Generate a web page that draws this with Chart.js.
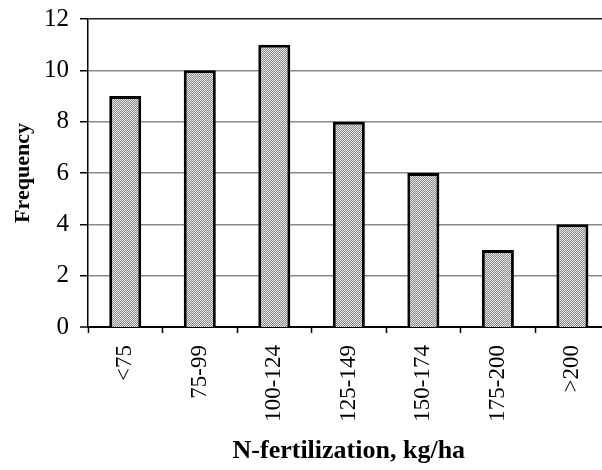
<!DOCTYPE html>
<html>
<head>
<meta charset="utf-8">
<script src="https://cdn.jsdelivr.net/npm/chart.js@4"></script>
<style>
  html, body { margin: 0; padding: 0; background: #fff; overflow: hidden; }
  #myChart { display: block; margin-top: -7px; }
</style>
</head>
<body>
<canvas id="myChart" width="612" height="477"></canvas>
<script>
// data
const categories = ["<75", "75-99", "100-124", "125-149", "150-174", "175-200", ">200"]
const frequency = [9, 10, 11, 8, 6, 3, 4]
const yTicks = [0, 2, 4, 6, 8, 10, 12]

const serif = "'Liberation Serif', 'Times New Roman', serif"

// stippled grey fill like the scan
function stipple(){
  const c = document.createElement("canvas")
  c.width = 2; c.height = 2
  const g = c.getContext("2d")
  g.fillStyle = "#e4e4e4"
  g.fillRect(0, 0, 2, 2)
  g.fillStyle = "#8c8c8c"
  g.fillRect(0, 0, 1, 1)
  g.fillRect(1, 1, 1, 1)
  return g.createPattern(c, "repeat")
}
const fill = stipple()

const chart = new Chart("myChart", {
  type: "bar",
  data: {
    labels: categories,
    datasets: [{
      label: "Frequency",
      data: frequency,
      backgroundColor: fill,
      borderColor: "#000",
      borderWidth: 3,
      borderSkipped: "bottom",
      barPercentage: 0.43,
      categoryPercentage: 1
    }]
  },
  options: {
    responsive: false,
    animation: false,
    layout: { padding: { top: 1, right: 0, left: 0, bottom: 0 } },
    plugins: {
      legend: { display: false },
      tooltip: { enabled: false }
    },
    scales: {
      x: {
        offset: true,
        grid: {
          offset: true,
          drawOnChartArea: false,
          drawTicks: true,
          tickLength: 6,
          tickColor: "#000",
          tickWidth: 1.5
        },
        border: { color: "#000", width: 2 },
        ticks: {
          color: "#000",
          minRotation: 90,
          maxRotation: 90,
          padding: 12,
          font: { family: serif, size: 23 }
        },
        title: {
          display: true,
          text: "N-fertilization, kg/ha",
          color: "#000",
          font: { family: serif, size: 26, weight: "bold" },
          padding: { top: 0, bottom: 3 }
        },
        afterFit: function(scale){ scale.height = 143 }
      },
      y: {
        min: 0,
        max: 12,
        afterBuildTicks: function(scale){
          scale.ticks = yTicks.map(v => ({ value: v }))
        },
        grid: {
          color: ctx => ctx.tick && ctx.tick.value == 12 ? "#222" : "#8a8a8a",
          lineWidth: ctx => ctx.tick && ctx.tick.value == 0 ? 0 : 1.5,
          drawTicks: true,
          tickLength: 8,
          tickColor: "#000",
          tickWidth: 1.5
        },
        border: { color: "#000", width: 1.5 },
        ticks: {
          color: "#000",
          padding: 11,
          font: { family: serif, size: 25 }
        },
        title: {
          display: true,
          text: "Frequency",
          color: "#000",
          font: { family: serif, size: 22, weight: "bold" },
          padding: { top: 10, bottom: 0 }
        },
        afterFit: function(scale){ scale.width = 88 }
      }
    }
  }
})
</script>
</body>
</html>
